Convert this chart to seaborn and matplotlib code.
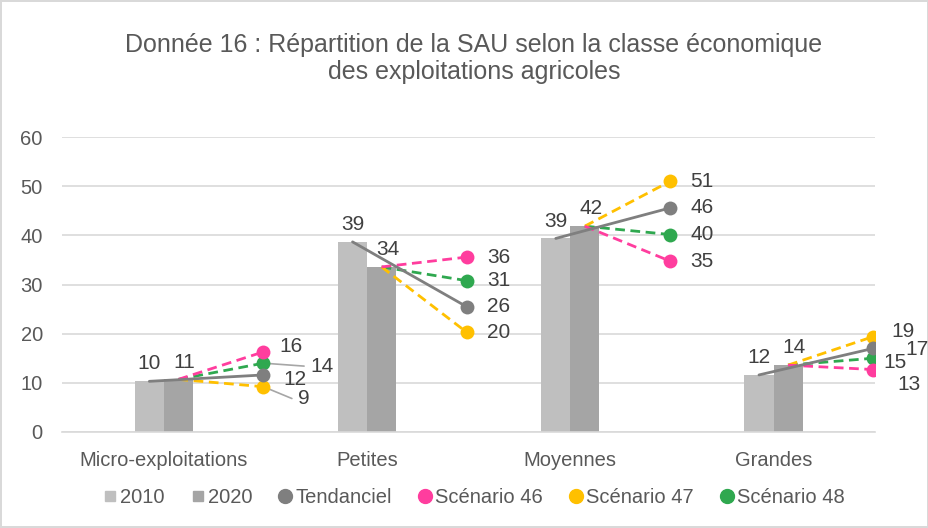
import matplotlib
matplotlib.use("Agg")
from matplotlib import pyplot as plt
from matplotlib.lines import Line2D
import pandas as pd
import seaborn as sns

categories = ["Micro-exploitations", "Petites", "Moyennes", "Grandes"]
sau_2010 = [10.3, 38.7, 39.4, 11.6]
sau_2020 = [10.7, 33.6, 41.9, 13.6]
tendanciel = [11.6, 25.5, 45.6, 17.0]
scenario_46 = [16.3, 35.6, 34.8, 12.7]
scenario_47 = [9.2, 20.3, 51.0, 19.4]
scenario_48 = [14.0, 30.8, 40.2, 15.0]

bar_colors = {"2010": "#BFBFBF", "2020": "#A5A5A5"}
line_series = [
    ("Tendanciel", tendanciel, "#7F7F7F", "-"),
    ("Scénario 46", scenario_46, "#FF3D9E", "--"),
    ("Scénario 47", scenario_47, "#FFC000", "--"),
    ("Scénario 48", scenario_48, "#2FA84F", "--"),
]

sns.set_theme(style="white")
plt.rcParams["font.family"] = ["Liberation Sans", "DejaVu Sans"]
text_col = "#595959"
lab_col = "#404040"

df = pd.DataFrame({
    "classe": categories * 2,
    "annee": ["2010"] * 4 + ["2020"] * 4,
    "sau": sau_2010 + sau_2020,
})

fig = plt.figure(figsize=(9.29, 5.28), dpi=100)
fig.patch.set_edgecolor("#D9D9D9")
fig.patch.set_linewidth(1.5)
ax = fig.add_axes([0.067, 0.182, 0.875, 0.558])

sns.barplot(data=df, x="classe", y="sau", hue="annee", palette=bar_colors,
            width=0.286, dodge=True, saturation=1, legend=False, linewidth=0, ax=ax)

bw = 0.143
x_end = 0.49
for i in range(len(categories)):
    x10 = i - bw / 2
    x20 = i + bw / 2
    xe = i + x_end
    # scenario lines start from the 2020 bar, trend line from the 2010 bar
    for name, vals, col, ls in line_series[::-1]:
        if name == "Tendanciel":
            ax.plot([x10, xe], [sau_2010[i], vals[i]], color=col, lw=2, ls=ls, zorder=4)
        else:
            ax.plot([x20, xe], [sau_2020[i], vals[i]], color=col, lw=2, ls=ls,
                    dashes=(3.5, 2), zorder=3)
        ax.scatter([xe], [vals[i]], s=100, color=col, zorder=5, linewidths=0)
    ax.text(x10, sau_2010[i] + 1.6, f"{sau_2010[i]:.0f}", ha="center", va="bottom",
            fontsize=15, color=lab_col)
    ax.text(x20 + 0.03, sau_2020[i] + 1.6, f"{sau_2020[i]:.0f}", ha="center", va="bottom",
            fontsize=15, color=lab_col)


# end labels (with a few leader lines where labels overlap)
def end_label(i, val, dx=0.1, dy=0.0, leader=False):
    xe = i + x_end
    tx = xe + dx
    ty = val + dy
    if leader:
        ax.plot([xe, tx - 0.03], [val, ty], color="#A6A6A6", lw=1.2, zorder=2)
    ax.text(tx, ty, f"{val:.0f}", ha="left", va="center", fontsize=15, color=lab_col)


end_label(0, scenario_46[0], dx=0.08, dy=1.0)
end_label(0, scenario_48[0], dx=0.23, dy=-0.6, leader=True)
end_label(0, tendanciel[0], dx=0.1, dy=-1.0)
end_label(0, scenario_47[0], dx=0.17, dy=-2.4, leader=True)
for i in (1, 2):
    for _, vals, _, _ in line_series:
        end_label(i, vals[i], dx=0.1)
end_label(3, scenario_47[3], dx=0.09, dy=1.0)
end_label(3, tendanciel[3], dx=0.16, dy=-0.2, leader=True)
end_label(3, scenario_48[3], dx=0.05, dy=-0.9)
end_label(3, scenario_46[3], dx=0.12, dy=-3.1, leader=True)

ax.set_xlim(-0.5, 3.5)
ax.set_ylim(0, 60)
ax.set_yticks(range(0, 61, 10))
ax.yaxis.grid(True, color="#D9D9D9", lw=1.2)
ax.set_axisbelow(True)
for s in ["top", "right", "left"]:
    ax.spines[s].set_visible(False)
ax.spines["bottom"].set_color("#D9D9D9")
ax.spines["bottom"].set_linewidth(1.2)
ax.set_xlabel("")
ax.set_ylabel("")
ax.tick_params(axis="both", length=0, labelsize=14.5, colors=text_col)
ax.tick_params(axis="x", pad=14)
ax.tick_params(axis="y", pad=14)

fig.text(0.51, 0.889, "Donnée 16 : Répartition de la SAU selon la classe économique\ndes exploitations agricoles",
         ha="center", va="center", fontsize=18, color=text_col, linespacing=1.15)

handles = [
    Line2D([], [], marker="s", ls="", color=bar_colors["2010"], markersize=7),
    Line2D([], [], marker="s", ls="", color=bar_colors["2020"], markersize=7),
]
for name, _, col, _ in line_series:
    handles.append(Line2D([], [], marker="o", ls="", color=col, markersize=10))
fig.legend(handles, ["2010", "2020"] + [s[0] for s in line_series], loc="center",
           bbox_to_anchor=(0.51, 0.058), ncol=6, frameon=False, fontsize=14.5,
           handlelength=0.7, handletextpad=0.15, columnspacing=1.3, labelcolor=text_col)

plt.savefig("out.png", dpi=100)
